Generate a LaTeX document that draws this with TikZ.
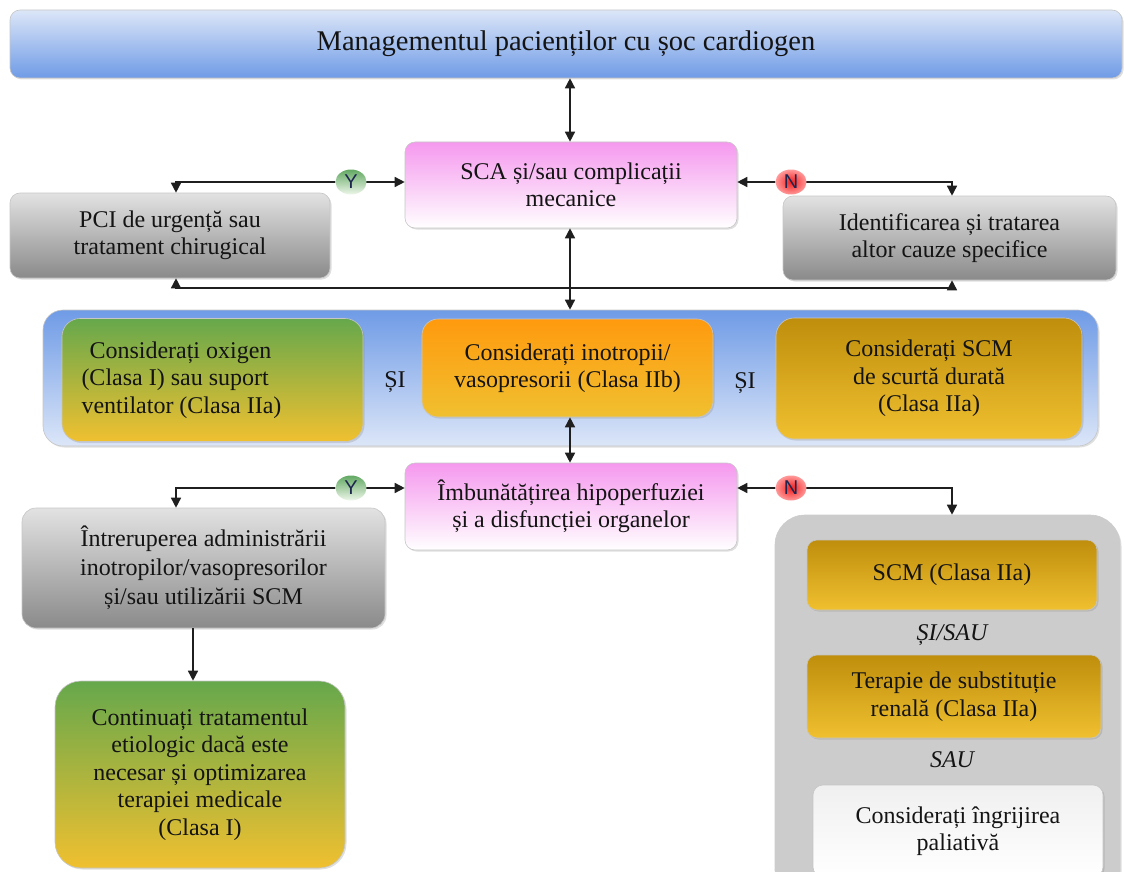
\documentclass[tikz,border=0pt]{standalone}
\usepackage{fontspec}
\setmainfont{LiberationSerif}[Extension=.ttf, UprightFont=*-Regular, BoldFont=*-Bold, ItalicFont=*-Italic, BoldItalicFont=*-BoldItalic]
\newfontfamily\ynfont{Liberation Sans}
\usetikzlibrary{arrows.meta,shadows,shapes.geometric}
\definecolor{bluetop}{HTML}{DCE6F8}
\definecolor{bluebot}{HTML}{6F9BE6}
\definecolor{pinktop}{HTML}{F598EE}
\definecolor{greytop}{HTML}{E2E2E2}
\definecolor{greybot}{HTML}{8A8A8A}
\definecolor{greentop}{HTML}{66A84C}
\definecolor{goldbot}{HTML}{F0C030}
\definecolor{orangetop}{HTML}{FF9A0E}
\definecolor{dgoldtop}{HTML}{BF8E0C}
\definecolor{panelgrey}{HTML}{CCCCCC}
\definecolor{ygreen}{HTML}{62A862}
\definecolor{ygreenl}{HTML}{EEF7EA}
\definecolor{nred}{HTML}{F41E1E}
\definecolor{nredl}{HTML}{FF9A9A}
\definecolor{txt}{HTML}{141414}
\definecolor{navy}{HTML}{1E2650}
\begin{document}
\begin{tikzpicture}[x=1pt,y=-1pt,
  box/.style={rectangle, rounded corners=10pt, draw=gray!45, line width=0.6pt,
    align=center, text=txt, inner sep=0pt,
    font=\fontsize{24}{27.5}\selectfont,
    drop shadow={opacity=0.25, shadow xshift=1.5pt, shadow yshift=-1.5pt}},
  pinkbox/.style={box, top color=pinktop, bottom color=white},
  greybox/.style={box, top color=greytop, bottom color=greybot},
  greenbox/.style={box, top color=greentop, bottom color=goldbot},
  orangebox/.style={box, top color=orangetop, bottom color=goldbot},
  goldbox/.style={box, top color=dgoldtop, bottom color=goldbot},
  conn/.style={line width=1.5pt, draw=black!88},
  tip/.style={-{Triangle[length=10pt,width=10pt]}},
  dtip/.style={{Triangle[length=10pt,width=10pt]}-{Triangle[length=10pt,width=10pt]}},
  ynball/.style={ellipse, minimum width=31pt, minimum height=25pt, inner sep=0pt, font=\ynfont\fontsize{20}{20}\selectfont, text=navy},
  yball/.style={ynball, top color=ygreen, bottom color=ygreenl},
  nball/.style={ynball, inner color=nred, outer color=nredl},
  lbl/.style={font=\fontsize{24}{27.5}\selectfont, text=txt, inner sep=0pt}
]
\useasboundingbox (0,0) rectangle (1124,872);
\clip (0,0) rectangle (1124,872);

% title
\node[box, top color=bluetop, bottom color=bluebot, minimum width=1112pt, minimum height=68pt,
  font=\fontsize{28.5}{30}\selectfont] (title) at (566,44) {Managementul pacienților cu șoc cardiogen};

% row 2
\node[pinkbox, minimum width=332pt, minimum height=86pt] (sca) at (571,185) {SCA și/sau complicații\\mecanice};
\node[greybox, minimum width=320pt, minimum height=85pt] (pci) at (170,235.5) {PCI de urgență sau\\tratament chirugical};
\node[greybox, minimum width=333pt, minimum height=84pt] (ident) at (949.5,238) {Identificarea și tratarea\\altor cauze specifice};

% blue panel
\node[box, rounded corners=20pt, top color=bluebot, bottom color=bluetop, minimum width=1055pt, minimum height=136pt] (panel) at (570.5,378) {};
\node[greenbox, rounded corners=18pt, minimum width=301pt, minimum height=123pt, text width=262pt, align=flush left] (oxy) at (212.5,380) {\,\,Considerați oxigen\\(Clasa I) sau suport\\ventilator (Clasa IIa)};
\node[lbl] (si1) at (395,382) {ȘI};
\node[orangebox, rounded corners=16pt, minimum width=291pt, minimum height=98pt] (ino) at (567.5,368) {Considerați inotropii/\\vasopresorii (Clasa IIb)};
\node[lbl] (si2) at (745,383) {ȘI};
\node[goldbox, rounded corners=18pt, minimum width=306pt, minimum height=121pt] (scm) at (929,378.5) {Considerați SCM\\de scurtă durată\\(Clasa IIa)};

% row 4
\node[pinkbox, minimum width=332pt, minimum height=87pt] (imb) at (571,506.5) {Îmbunătățirea hipoperfuziei\\și a disfuncției organelor};
\node[greybox, rounded corners=14pt, minimum width=363pt, minimum height=120pt, font=\fontsize{24}{29}\selectfont] (intr) at (203.5,568) {Întreruperea administrării\\inotropilor/vasopresorilor\\și/sau utilizării SCM};
\node[greenbox, rounded corners=26pt, minimum width=290pt, minimum height=187pt] (cont) at (200,774.5) {Continuați tratamentul\\etiologic dacă este\\necesar și optimizarea\\terapiei medicale\\(Clasa I)};

% right grey panel
\node[box, rounded corners=30pt, fill=panelgrey, draw=panelgrey, minimum width=345pt, minimum height=385pt] (gpanel) at (947.5,707.5) {};
\node[goldbox, minimum width=290pt, minimum height=70pt] (scm2) at (952,575) {SCM (Clasa IIa)};
\node[lbl, font=\itshape\fontsize{24}{27.5}\selectfont] (sisau) at (952,635) {ȘI/SAU};
\node[goldbox, minimum width=294pt, minimum height=83pt] (renal) at (954,696.5) {Terapie de substituție\\renală (Clasa IIa)};
\node[lbl, font=\itshape\fontsize{24}{27.5}\selectfont] (sau) at (952,760) {SAU};
\node[box, top color=gray!12, bottom color=white, minimum width=290pt, minimum height=92pt] (pal) at (958,831) {Considerați îngrijirea\\paliativă};

% junction points
\coordinate (j1) at (570,288);
\coordinate (ya) at (351,182);
\coordinate (na) at (791,182);
\coordinate (yb) at (351,488);
\coordinate (nb) at (791,488);

% connectors
\draw[conn, dtip] (title.south -| j1) -- (sca.north -| j1);
\draw[conn, tip] (ya) -- (ya -| sca.west);
\draw[conn, tip] (ya) -| (pci.north -| 176,0);
\draw[conn, tip] (na) -- (na -| sca.east);
\draw[conn, tip] (na) -| (ident.north -| 952,0);
\draw[conn, dtip] (sca.south -| j1) -- (panel.north -| j1);
\draw[conn, tip] (j1) -| (pci.south -| 176,0);
\draw[conn, tip] (j1) -| (ident.south -| 952,0);
\draw[conn, dtip] (ino.south -| j1) -- (imb.north -| j1);
\draw[conn, tip] (yb) -- (yb -| imb.west);
\draw[conn, tip] (yb) -| (intr.north -| 176,0);
\draw[conn, tip] (nb) -- (nb -| imb.east);
\draw[conn, tip] (nb) -| (gpanel.north -| 952,0);
\draw[conn, tip] (intr.south -| 193,0) -- (cont.north -| 193,0);

\node[yball] (y1) at (ya) {Y};
\node[nball] (n1) at (na) {N};
\node[yball] (y2) at (yb) {Y};
\node[nball] (n2) at (nb) {N};
\end{tikzpicture}
\end{document}
